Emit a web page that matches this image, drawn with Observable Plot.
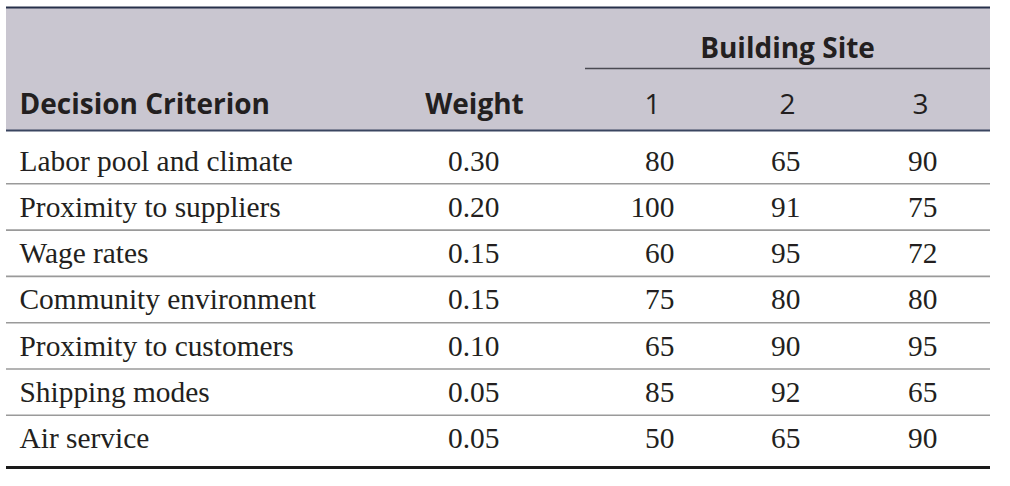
<!DOCTYPE html>
<html>
<head>
<meta charset="utf-8">
<script src="https://cdn.jsdelivr.net/npm/d3@7"></script>
<script src="https://cdn.jsdelivr.net/npm/@observablehq/plot@0.6"></script>
<style>
  html, body { margin: 0; padding: 0; background: #fff; }
  svg { display: block; }
</style>
</head>
<body>
<div id="chart"></div>
<script>
// ---- data ----
const criteria = [
  "Labor pool and climate",
  "Proximity to suppliers",
  "Wage rates",
  "Community environment",
  "Proximity to customers",
  "Shipping modes",
  "Air service"
];
const weights = [0.30, 0.20, 0.15, 0.15, 0.10, 0.05, 0.05];
const site1 = [80, 100, 60, 75, 65, 85, 50];
const site2 = [65, 91, 95, 80, 90, 92, 65];
const site3 = [90, 75, 72, 80, 95, 65, 90];
const siteLabels = ["1", "2", "3"];
const headerCriterion = "Decision Criterion";
const headerWeight = "Weight";
const headerGroup = "Building Site";

// ---- layout (positions/styles) ----
const W = 1010, H = 486;
const left = 6, right = 990;
const topLine = 7, headerBottom = 130, groupLineY = 68, bottomLine = 467;
const groupLineX1 = 585;
const firstBaseline = 170, rowStep = 46.3;
const critX = 19, weightRight = 499;
const siteRight = [674, 800, 937];
const siteCenter = [652, 787, 920];
const weightCenter = 474;
const groupBaseline = 57, headerBaseline = 113;
const sans = "'Open Sans', 'Noto Sans', sans-serif";
const serif = "'Liberation Serif', 'Times New Roman', serif";
const ink = "#231f20";
const headSize = 28, bodySize = 29.4;

const rows = criteria.map((c, i) => ({
  criterion: c, weight: weights[i], s1: site1[i], s2: site2[i], s3: site3[i], i
}));
const baseline = d => firstBaseline + rowStep * d.i;
const seps = d3.range(1, criteria.length).map(k => ({y: firstBaseline + rowStep * k - 33}));
const fmt = d3.format(".2f");

const siteCells = [];
rows.forEach(r => [r.s1, r.s2, r.s3].forEach((v, j) => siteCells.push({v, j, i: r.i})));

const chart = Plot.plot({
  width: W, height: H,
  margin: 0,
  x: {type: "linear", domain: [0, W], range: [0, W], axis: null},
  y: {type: "linear", domain: [0, H], range: [0, H], axis: null},
  style: {background: "#fff"},
  marks: [
    // header band
    Plot.rect([0], {x1: left, x2: right, y1: topLine, y2: headerBottom, fill: "#c9c6d0"}),
    Plot.ruleY([topLine], {x1: left, x2: right, stroke: "#27304a", strokeWidth: 2.2}),
    Plot.ruleY([headerBottom], {x1: left, x2: right, stroke: "#3a4560", strokeWidth: 2}),
    Plot.ruleY([groupLineY], {x1: groupLineX1, x2: right, stroke: "#4a4a52", strokeWidth: 1.5}),
    // row separators
    Plot.ruleY(seps, {y: "y", x1: left, x2: right, stroke: "#9a9a9a", strokeWidth: 1.6}),
    Plot.ruleY([bottomLine], {x1: left, x2: right, stroke: "#1a1a1a", strokeWidth: 3.2}),
    // header text
    Plot.text([headerGroup], {x: siteCenter[1], y: groupBaseline, text: d => d, fontFamily: sans, fontWeight: 700, fontSize: headSize, fill: ink, lineAnchor: "bottom"}),
    Plot.text([headerCriterion], {x: critX, y: headerBaseline, text: d => d, textAnchor: "start", fontFamily: sans, fontWeight: 700, fontSize: headSize, fill: ink, lineAnchor: "bottom"}),
    Plot.text([headerWeight], {x: weightCenter, y: headerBaseline, text: d => d, fontFamily: sans, fontWeight: 700, fontSize: headSize, fill: ink, lineAnchor: "bottom"}),
    Plot.text(siteLabels, {x: (d, j) => siteCenter[j], y: headerBaseline, text: d => d, fontFamily: sans, fontSize: headSize, fill: ink, lineAnchor: "bottom"}),
    // body
    Plot.text(rows, {x: critX, y: baseline, text: "criterion", textAnchor: "start", fontFamily: serif, fontSize: bodySize, fill: ink, lineAnchor: "bottom"}),
    Plot.text(rows, {x: weightRight, y: baseline, text: d => fmt(d.weight), textAnchor: "end", fontFamily: serif, fontSize: bodySize, fill: ink, lineAnchor: "bottom"}),
    Plot.text(siteCells, {x: d => siteRight[d.j], y: d => firstBaseline + rowStep * d.i, text: d => String(d.v), textAnchor: "end", fontFamily: serif, fontSize: bodySize, fill: ink, lineAnchor: "bottom"})
  ]
});
document.getElementById("chart").appendChild(chart);
</script>
</body>
</html>
